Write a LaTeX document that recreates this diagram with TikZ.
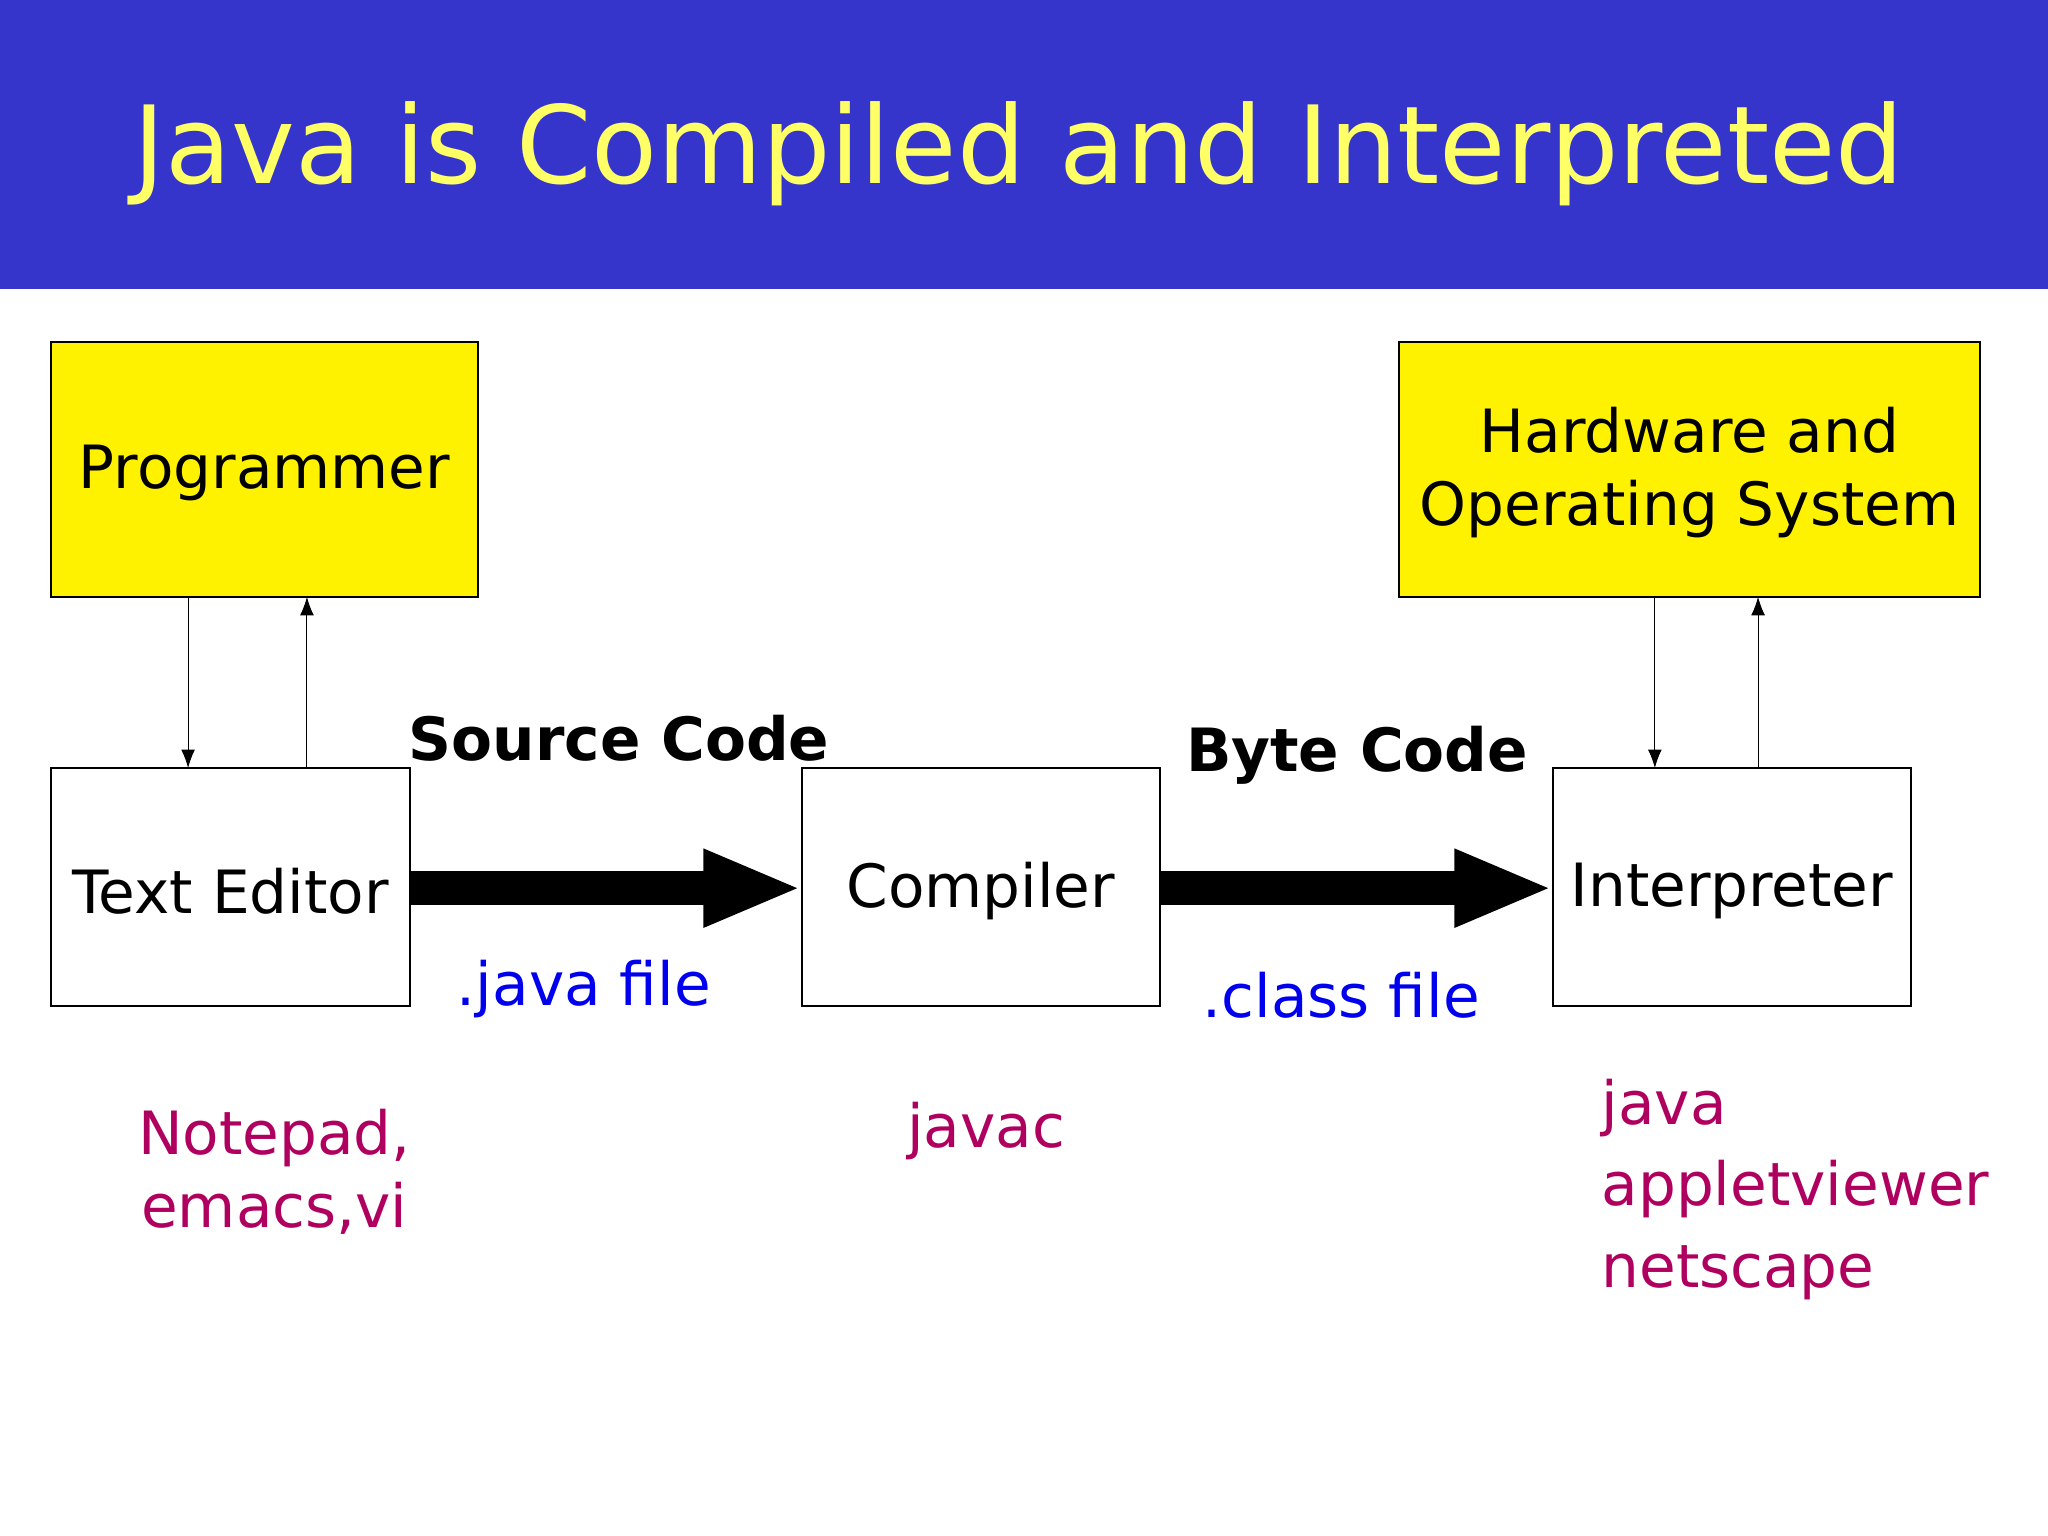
\documentclass[tikz,border=0pt]{standalone}
\usepackage{fontspec}
\setmainfont{DejaVu Sans}
\usetikzlibrary{arrows.meta}
\definecolor{bandblue}{HTML}{3535CC}
\definecolor{titleyellow}{HTML}{FFFF66}
\definecolor{toolpurple}{HTML}{B0005F}
\definecolor{fileblue}{HTML}{0000EE}
\begin{document}
\begin{tikzpicture}[x=0.02cm,y=-0.02cm,
    box/.style={draw,thick,inner sep=0pt},
    person/.style={box,fill=yellow},
    boxtext/.style={font=\fontsize{26}{32}\selectfont},
    loop arrow/.style={-{Latex[length=8pt,width=6pt]},thin},
    fat/.style={line width=14.7pt,-{Triangle[length=43pt,width=31pt]}},
    codelabel/.style={font=\bfseries\fontsize{26}{32}\selectfont},
    filelabel/.style={font=\fontsize{26}{32}\selectfont,text=fileblue},
    toollabel/.style={font=\fontsize{26}{32}\selectfont,text=toolpurple}
  ]
  \useasboundingbox (0,0) rectangle (1568,1176);
  % title band
  \fill[bandblue] (0,0) rectangle (1568,221);
  \node[text=titleyellow,font=\fontsize{47}{56}\selectfont] (title) at (780,118) {Java is Compiled and Interpreted};
  % boxes
  \draw[person] (39,262) rectangle (366,457);
  \node[boxtext] (prog) at (202.5,362) {Programmer};
  \draw[person] (1071,262) rectangle (1516,457);
  \node[boxtext,align=center] (hw) at (1293.5,362) {Hardware and\\Operating System};
  \draw[box] (39,588) rectangle (314,770);
  \node[boxtext] (edit) at (176.5,682) {Text Editor};
  \draw[box] (614,588) rectangle (888,770);
  \node[boxtext] (comp) at (751,682) {Compiler};
  \draw[box] (1189,588) rectangle (1463,770);
  \node[boxtext] (interp) at (1326,682) {Interpreter};
  % named anchor points
  \coordinate (p1) at (144,457); \coordinate (e1) at (144,588);
  \coordinate (p2) at (235,457); \coordinate (e2) at (235,588);
  \coordinate (h1) at (1267,457); \coordinate (i1) at (1267,588);
  \coordinate (h2) at (1346,457); \coordinate (i2) at (1346,588);
  \coordinate (eR) at (314,680); \coordinate (cL) at (614,680);
  \coordinate (cR) at (888,680); \coordinate (iL) at (1189,680);
  % connectors
  \draw[loop arrow] (p1) -- (e1);
  \draw[loop arrow] (e2) -- (p2);
  \draw[loop arrow] (h1) -- (i1);
  \draw[loop arrow] (i2) -- (h2);
  \draw[fat] (eR) -- (cL);
  \draw[fat] (cR) -- (iL);
  % labels
  \node[codelabel] (src) at (474,565) {Source Code};
  \node[codelabel] (byte) at (1039,578) {Byte Code};
  \node[filelabel] (jfile) at (447,757) {.java file};
  \node[filelabel] (cfile) at (1027,762) {.class file};
  \node[toollabel,align=center] (ed) at (210,897) {Notepad,\\emacs,vi};
  \node[toollabel] (jc) at (755,866) {javac};
  \node[toollabel,align=left,anchor=north west,font=\fontsize{26}{35.5}\selectfont] (run) at (1220,820) {java\\appletviewer\\netscape};
\end{tikzpicture}
\end{document}
